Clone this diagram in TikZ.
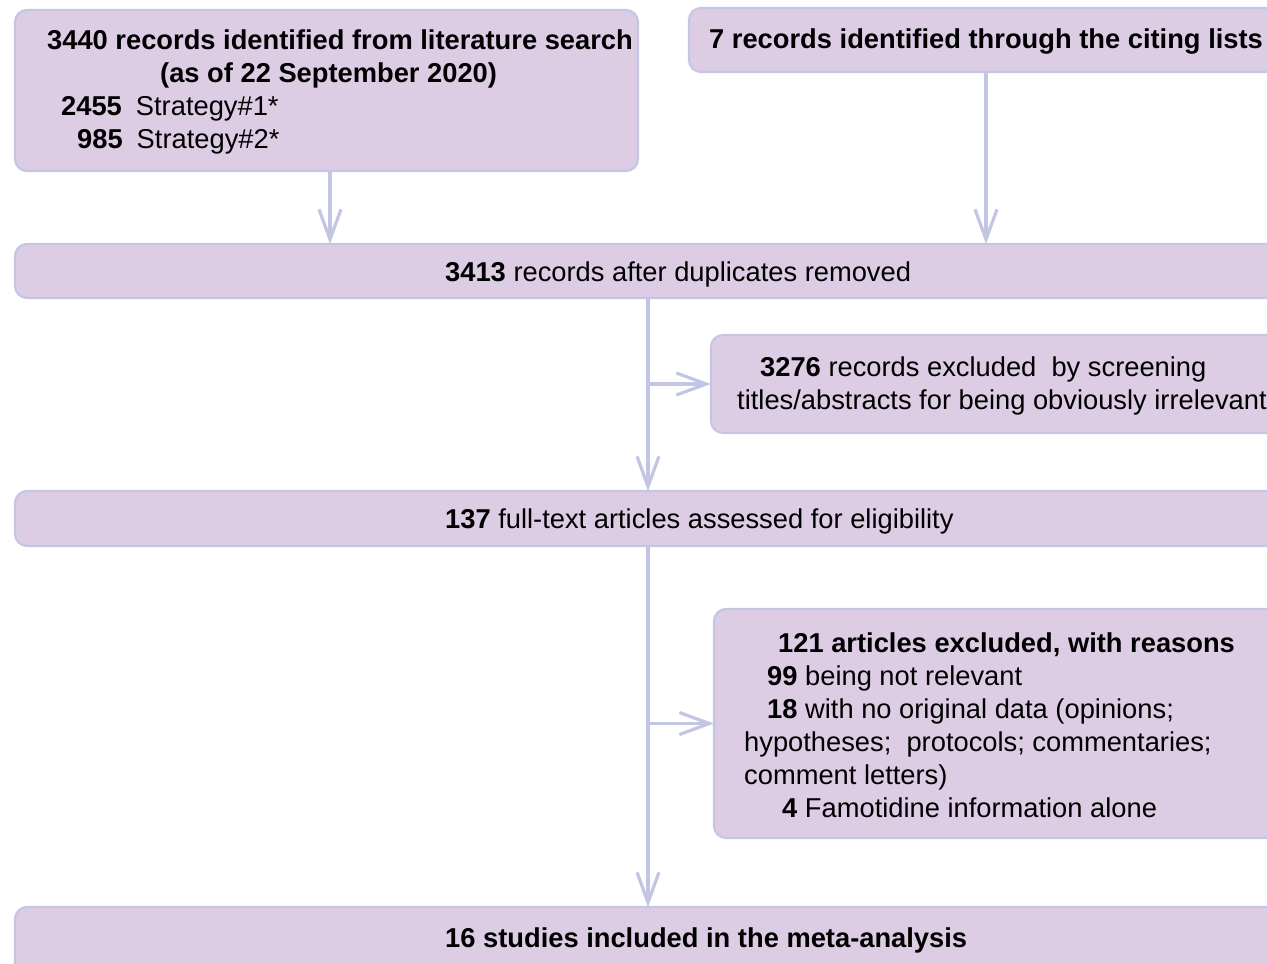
\documentclass[tikz,border=0pt]{standalone}
\usepackage{fontspec}
\setmainfont{Liberation Sans}
\usetikzlibrary{arrows.meta}
\definecolor{boxfill}{HTML}{DCCCE4}
\definecolor{boxline}{HTML}{C5C6E4}
\definecolor{arrcol}{HTML}{C2C5E3}
\tikzset{
  flowbox/.style={draw=boxline, line width=2.2pt, fill=boxfill, rounded corners=12pt, rectangle, inner sep=0pt, outer sep=0pt},
  txt/.style={anchor=base west, inner sep=0pt, font=\fontsize{27.3}{33}\selectfont},
  flowarr/.style={draw=arrcol, line width=3.2pt, -{Straight Barb[length=30pt,width=22pt]}},
}
\begin{document}
\begin{tikzpicture}[x=1pt,y=-1pt]
\useasboundingbox (0,0) rectangle (1267,964);
\clip (0,0) rectangle (1267,964);
% boxes
\node[flowbox, minimum width=623pt, minimum height=161pt] (b1) at (326.5,90.5) {};
\node[flowbox, minimum width=594pt, minimum height=64pt] (b2) at (986,40) {};
\node[flowbox, minimum width=1324pt, minimum height=54pt] (b3) at (677,271) {};
\node[flowbox, minimum width=600pt, minimum height=98pt] (b4) at (1011,384) {};
\node[flowbox, minimum width=1324pt, minimum height=55pt] (b5) at (677,518.5) {};
\node[flowbox, minimum width=600pt, minimum height=229pt] (b6) at (1014,723.5) {};
\node[flowbox, minimum width=1324pt, minimum height=70pt] (b7) at (677,942) {};
% texts
\node[txt] (t1a) at (47,49) {\textbf{3440 records identified from literature search}};
\node[txt] (t1b) at (160,82) {\textbf{(as of 22 September 2020)}};
\node[txt] (t1c) at (61,115) {\textbf{2455}\hspace{14pt}Strategy\#1*};
\node[txt] (t1d) at (77,148) {\textbf{985}\hspace{14pt}Strategy\#2*};
\node[txt] (t2) at (709,48) {\textbf{7 records identified through the citing lists}};
\node[txt] (t3) at (445,281) {\textbf{3413} records after duplicates removed};
\node[txt] (t4a) at (760,376) {\textbf{3276} records excluded\ \ by screening};
\node[txt] (t4b) at (737,409) {titles/abstracts for being obviously irrelevant};
\node[txt] (t5) at (445,528) {\textbf{137} full-text articles assessed for eligibility};
\node[txt] (t6a) at (778,652) {\textbf{121 articles excluded, with reasons}};
\node[txt] (t6b) at (767,685) {\textbf{99} being not relevant};
\node[txt] (t6c) at (767,718) {\textbf{18} with no original data (opinions;};
\node[txt] (t6d) at (744,751) {hypotheses;\ \ protocols; commentaries;};
\node[txt] (t6e) at (744,784) {comment letters)};
\node[txt] (t6f) at (782,817) {\textbf{4} Famotidine information alone};
\node[txt] (t7) at (445,947) {\textbf{16 studies included in the meta-analysis}};
% connectors
\coordinate (trunk) at (648,0);
\coordinate (c1) at (330,0);
\draw[flowarr] (b1.south -| c1) -- (b3.north -| c1);
\draw[flowarr] (b2.south) -- (b3.north -| b2.south);
\draw[flowarr] (b3.south -| trunk) -- (b5.north -| trunk);
\draw[flowarr] (b4.west -| trunk) -- (b4.west);
\draw[flowarr] (b5.south -| trunk) -- (b7.north -| trunk);
\draw[flowarr] (b6.west -| trunk) -- (b6.west);
\end{tikzpicture}
\end{document}
